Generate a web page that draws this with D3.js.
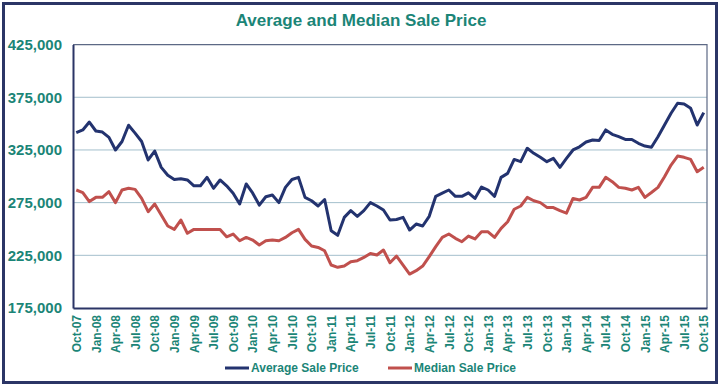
<!DOCTYPE html>
<html>
<head>
<meta charset="utf-8">
<script src="https://cdn.jsdelivr.net/npm/d3@7"></script>
<style>
  body { margin: 0; background: #fff; }
  text { font-family: "Liberation Sans", Arial, sans-serif; font-weight: bold; }
</style>
</head>
<body>
<div id="chart"></div>
<script>
// monthly, Oct-07 .. Oct-15
var avgPrice = [
	341400, 344000, 351500, 343000, 342000, 337000, 325000, 333000, 348500, 341000,
	333000, 315500, 324000, 308500, 301000, 297000, 297700, 296500, 291000, 291000,
	299000, 288600, 296500, 291000, 284000, 273700, 292700, 284000, 272700, 280600,
	282200, 275000, 289500, 297000, 299000, 280000, 276800, 271800, 278000, 248300,
	244000, 261000, 267400, 262000, 267400, 275000, 271800, 268000, 258500, 259000,
	261000, 249000, 254700, 252800, 262000, 281000, 284000, 287000, 281000, 281000,
	284300, 279000, 289800, 287000, 281000, 299000, 302800, 316000, 313900, 326600,
	321800, 318000, 313900, 317000, 308500, 317000, 325000, 328000, 332500, 334400,
	334000, 344000, 339800, 337600, 335000, 335000, 331300, 328700, 327500, 337600,
	348700, 359800, 369300, 368600, 364500, 348700, 360400
];
var medianPrice = [
	287000, 284600, 276000, 280000, 280000, 285400, 275000, 287000, 288600, 287600,
	279000, 266400, 273700, 263200, 252800, 249600, 258500, 245900, 249600, 249600,
	249600, 249600, 249600, 242600, 245200, 238800, 242000, 239500, 234800, 238800,
	239500, 238800, 242000, 246400, 249600, 240100, 233800, 232500, 229300, 215800,
	213600, 214800, 218900, 219900, 223000, 226800, 225300, 230000, 218000, 224300,
	215800, 207200, 210400, 214800, 223700, 233200, 242000, 245200, 241100, 237900,
	243300, 240500, 247300, 247300, 242000, 250600, 256900, 268700, 271800, 280000,
	276800, 275000, 270500, 270300, 267400, 265000, 279000, 277500, 280000, 289500,
	289500, 299000, 294900, 289500, 288600, 287000, 289500, 280000, 284600, 289500,
	299600, 310700, 319200, 318000, 316000, 304300, 308500
];
var tickLabels = [
	"Oct-07", "Jan-08", "Apr-08", "Jul-08", "Oct-08", "Jan-09", "Apr-09", "Jul-09",
	"Oct-09", "Jan-10", "Apr-10", "Jul-10", "Oct-10", "Jan-11", "Apr-11", "Jul-11",
	"Oct-11", "Jan-12", "Apr-12", "Jul-12", "Oct-12", "Jan-13", "Apr-13", "Jul-13",
	"Oct-13", "Jan-14", "Apr-14", "Jul-14", "Oct-14", "Jan-15", "Apr-15", "Jul-15",
	"Oct-15"
];
var yTicks = [175000, 225000, 275000, 325000, 375000, 425000];
var seriesNames = ["Average Sale Price", "Median Sale Price"];
var seriesColors = ["#23336f", "#c0504d"];

function drawChart() {
	var width = 723,
		height = 388;
	var teal = "#1b8577";

	var svg = d3.select("#chart").append("svg")
		.attr("width", width)
		.attr("height", height);

	// outer frame
	svg.append("rect")
		.attr("x", 3.5).attr("y", 3.5)
		.attr("width", 713).attr("height", 379)
		.style("fill", "#fff")
		.style("stroke", "#2b3566")
		.style("stroke-width", 3);

	var pLeft = 73, pRight = 707, pTop = 44.6, pBottom = 308;

	var idx = d3.range(avgPrice.length);
	var x = d3.scalePoint().domain(idx).range([pLeft, pRight]).padding(0.5);
	var y = d3.scaleLinear().domain([175000, 425000]).range([pBottom, pTop]);

	svg.append("text")
		.attr("x", 361).attr("y", 26)
		.attr("text-anchor", "middle")
		.style("font-size", "17px")
		.style("fill", teal)
		.text("Average and Median Sale Price");

	// gridlines
	svg.selectAll("line.grid")
		.data(yTicks.slice(1, -1))
		.enter().append("line")
		.attr("class", "grid")
		.attr("x1", pLeft).attr("x2", pRight)
		.attr("y1", function(d) { return y(d); })
		.attr("y2", function(d) { return y(d); })
		.style("stroke", "#a3bfcc")
		.style("stroke-width", 1);

	// plot border (top, right)
	svg.append("path")
		.attr("d", "M" + pLeft + "," + y(425000) + "H" + pRight + "V" + pBottom)
		.style("fill", "none")
		.style("stroke", "#5d6985")
		.style("stroke-width", 1.2);

	// y axis
	var yAxis = svg.append("g")
		.attr("transform", "translate(" + pLeft + ",0)")
		.call(d3.axisLeft(y).tickValues(yTicks).tickFormat(d3.format(",")).tickSize(0).tickPadding(11));
	yAxis.select(".domain").style("stroke", "#2b3566").style("stroke-width", 2);
	yAxis.selectAll("text")
		.style("font-size", "15px")
		.style("fill", teal)
		.style("font-family", "'Liberation Sans', Arial, sans-serif");

	// x axis
	var xAxis = svg.append("g")
		.attr("transform", "translate(0," + pBottom + ")")
		.call(d3.axisBottom(x)
			.tickValues(idx.filter(function(i) { return i % 3 == 0; }))
			.tickFormat(function(i) { return tickLabels[i / 3]; })
			.tickSize(0));
	xAxis.select(".domain").style("stroke", "#2b3566").style("stroke-width", 2);
	xAxis.selectAll("text")
		.attr("transform", "rotate(-90)")
		.attr("text-anchor", "end")
		.attr("x", -7).attr("y", 0).attr("dy", "0.35em")
		.style("font-size", "12px")
		.style("fill", teal)
		.style("font-family", "'Liberation Sans', Arial, sans-serif");

	// lines
	var line = d3.line()
		.x(function(d, i) { return x(i); })
		.y(function(d) { return y(d); });

	[avgPrice, medianPrice].forEach(function(s, k) {
		svg.append("path")
			.datum(s)
			.attr("d", line)
			.style("fill", "none")
			.style("stroke", seriesColors[k])
			.style("stroke-width", 3)
			.style("stroke-linejoin", "round");
	});

	// legend
	var legendX = [225, 388];
	seriesNames.forEach(function(name, k) {
		var g = svg.append("g").attr("transform", "translate(" + legendX[k] + ",368)");
		g.append("line")
			.attr("x1", 0).attr("x2", 24)
			.style("stroke", seriesColors[k])
			.style("stroke-width", 3);
		g.append("text")
			.attr("x", 26).attr("dy", "0.35em")
			.style("font-size", "12px")
			.style("fill", teal)
			.text(name);
	});
}

drawChart();
</script>
</body>
</html>
